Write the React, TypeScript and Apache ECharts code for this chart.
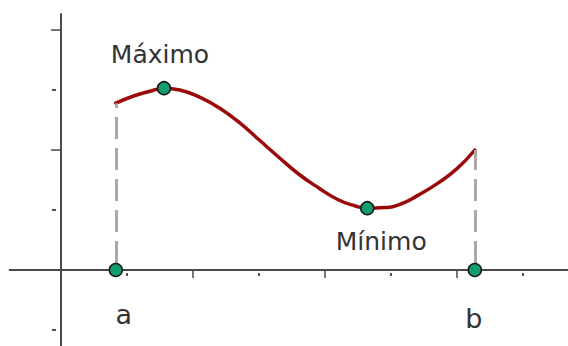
import React, { useEffect, useRef } from "react";
import * as echarts from "echarts";

// Curve (x in axis units, y in axis units)
const curveX = [0.83, 1.1, 1.35, 1.56, 1.8, 2.1, 2.4, 2.7, 3.0, 3.3, 3.6, 3.9, 4.2, 4.45, 4.64, 4.9, 5.15, 5.4, 5.7, 6.0, 6.27];
const curveY = [2.78, 2.9, 2.98, 3.03, 3.0, 2.88, 2.7, 2.46, 2.17, 1.88, 1.6, 1.37, 1.17, 1.07, 1.03, 1.04, 1.1, 1.24, 1.44, 1.69, 2.0];

// Marked points
const pointNames = ["Máximo", "Mínimo", "a", "b"];
const pointX = [1.56, 4.64, 0.83, 6.27];
const pointY = [3.03, 1.03, 0, 0];

// Axis ranges
const X_MIN = -2;
const X_MAX = 8;
const Y_MIN = -2;
const Y_MAX = 6;
const TICK_INTERVAL = 2;
const X_AXIS_START = -0.79;
const X_AXIS_END = 7.75;
const Y_AXIS_TOP = 4.28;

// Layout: pixel position of origin and unit sizes
const W = 568;
const H = 346;
const ORIGIN_X = 61;
const ORIGIN_Y = 270;
const UNIT_X = 66;
const UNIT_Y = 60;

const AXIS_COLOR = "#4a4a4a";
const TEXT_COLOR = "#333333";

const labelStyles: Record<string, any> = {
  "Máximo": { offset: [-4, -34], fontSize: 25 },
  "Mínimo": { offset: [14, 33], fontSize: 25 },
  a: { offset: [8, 44], fontSize: 27 },
  b: { offset: [-1, 48], fontSize: 27 },
};

export default function App() {
  const ref = useRef<HTMLDivElement>(null);

  useEffect(() => {
    if (!ref.current) return;
    const chart = echarts.init(ref.current, undefined, { renderer: "svg" });

    const gridLeft = ORIGIN_X - (0 - X_MIN) * UNIT_X;
    const gridRight = W - (ORIGIN_X + X_MAX * UNIT_X);
    const gridTop = ORIGIN_Y - Y_MAX * UNIT_Y;
    const gridBottom = H - (ORIGIN_Y - Y_MIN * UNIT_Y);

    const curveData = curveX.map((x, i) => [x, curveY[i]]);
    const aIdx = pointNames.indexOf("a");
    const bIdx = pointNames.indexOf("b");
    const fa = curveY[0];
    const fb = curveY[curveY.length - 1];

    const dashStyle = {
      color: "#a9a9a9",
      width: 3,
      type: [22, 9],
      dashOffset: 24,
    };
    const axisLineStyle = { color: AXIS_COLOR, width: 2, type: "solid" };

    const scatterData = pointNames.map((name, i) => {
      const ls = labelStyles[name];
      return {
        name,
        value: [pointX[i], pointY[i]],
        label: {
          show: true,
          formatter: name,
          position: "inside",
          offset: ls.offset,
          fontSize: ls.fontSize,
          fontFamily: "DejaVu Sans",
          color: TEXT_COLOR,
          align: "center",
          verticalAlign: "middle",
        },
      };
    });

    const option: any = {
      animation: false,
      backgroundColor: "#ffffff",
      grid: {
        left: gridLeft,
        right: gridRight,
        top: gridTop,
        bottom: gridBottom,
        containLabel: false,
        outerBoundsMode: "none",
      },
      xAxis: {
        type: "value",
        min: X_MIN,
        max: X_MAX,
        interval: TICK_INTERVAL,
        axisLine: { show: false, onZero: true },
        axisTick: { show: true, length: 8, lineStyle: { color: AXIS_COLOR, width: 1.5 } },
        minorTick: {
          show: true,
          splitNumber: 2,
          length: 7,
          lineStyle: { color: "#555555", width: 2, type: [0, 3, 3, 30] },
        },
        axisLabel: { show: false },
        splitLine: { show: false },
        minorSplitLine: { show: false },
      },
      yAxis: {
        type: "value",
        min: Y_MIN,
        max: Y_MAX,
        interval: TICK_INTERVAL,
        axisLine: { show: false, onZero: true },
        axisTick: { show: true, length: 10, lineStyle: { color: AXIS_COLOR, width: 1.5 } },
        minorTick: {
          show: true,
          splitNumber: 2,
          length: 9,
          lineStyle: { color: "#555555", width: 2, type: [0, 5, 4, 30] },
        },
        axisLabel: { show: false },
        splitLine: { show: false },
        minorSplitLine: { show: false },
      },
      series: [
        {
          type: "line",
          data: curveData,
          smooth: 0.5,
          showSymbol: false,
          symbol: "none",
          silent: true,
          clip: false,
          lineStyle: { color: "#9b0a0a", width: 3.5, cap: "round", join: "round" },
          markLine: {
            silent: true,
            symbol: ["none", "none"],
            label: { show: false },
            animation: false,
            data: [
              [
                { coord: [X_AXIS_START, 0], lineStyle: axisLineStyle },
                { coord: [X_AXIS_END, 0] },
              ],
              [
                { coord: [0, Y_MIN], lineStyle: axisLineStyle },
                { coord: [0, Y_AXIS_TOP] },
              ],
              [
                { coord: [pointX[aIdx], 0], lineStyle: dashStyle },
                { coord: [pointX[aIdx], fa] },
              ],
              [
                { coord: [pointX[bIdx], 0], lineStyle: dashStyle },
                { coord: [pointX[bIdx], fb] },
              ],
            ],
          },
        },
        {
          type: "scatter",
          z: 5,
          symbol: "circle",
          symbolSize: 13,
          silent: true,
          itemStyle: { color: "#139c6c", borderColor: "#1a1a1a", borderWidth: 1.5, opacity: 1 },
          data: scatterData,
        },
      ],
    };

    chart.setOption(option);
    return () => chart.dispose();
  }, []);

  return (
    <div
      ref={ref}
      style={{ position: "absolute", left: 0, top: 0, width: W, height: H, background: "#ffffff" }}
    />
  );
}
